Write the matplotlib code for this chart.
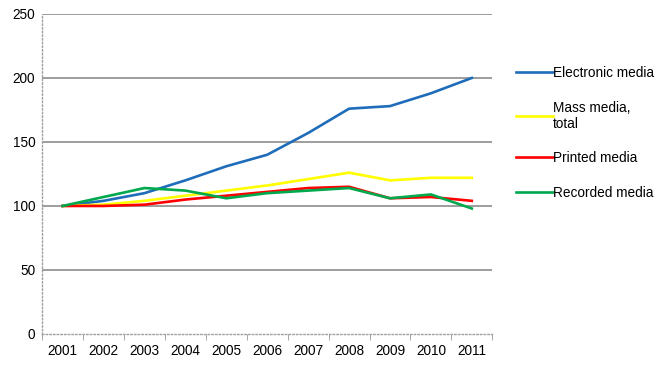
import numpy as np
import matplotlib
matplotlib.use("Agg")
import matplotlib.pyplot as plt

plt.rcParams['font.family'] = ['Liberation Sans', 'DejaVu Sans']

years = [2001, 2002, 2003, 2004, 2005, 2006, 2007, 2008, 2009, 2010, 2011]
electronic = [100, 104, 110, 120, 131, 140, 157, 176, 178, 188, 200]
mass_total = [100, 101, 104, 108, 112, 116, 121, 126, 120, 122, 122]
printed = [100, 100, 101, 105, 108, 111, 114, 115, 106, 107, 104]
recorded = [100, 107, 114, 112, 106, 110, 112, 114, 106, 109, 98]

fig = plt.figure(figsize=(6.59, 3.67), dpi=100)
ax = fig.add_axes([0.064, 0.09, 0.683, 0.872])

ax.plot(years, electronic, color='#1F6DBA', lw=1.9, label='Electronic media')
ax.plot(years, mass_total, color='#FFFF00', lw=1.9, label='Mass media,\ntotal')
ax.plot(years, printed, color='#FF0000', lw=1.9, label='Printed media')
ax.plot(years, recorded, color='#00A84E', lw=1.9, label='Recorded media')

ax.set_xlim(2000.5, 2011.5)
ax.set_ylim(0, 250)
ax.set_yticks(np.arange(0, 251, 50))
ax.set_xticks(years)
ax.set_xticks(np.arange(2000.5, 2012, 1), minor=True)
ax.tick_params(axis='x', which='major', length=0, pad=7, labelsize=9.8)
ax.tick_params(axis='x', which='minor', length=4, color='#999999', direction='out')
ax.tick_params(axis='y', length=0, pad=5, labelsize=9.8)

for v in [50, 100, 150, 200, 250]:
    ax.axhline(v, color='#8C8C8C', lw=1.2, zorder=0)

for s in ['top', 'right']:
    ax.spines[s].set_visible(False)
for s in ['left', 'bottom']:
    ax.spines[s].set_color('#A0A0A0')
    ax.spines[s].set_linestyle(':')
    ax.spines[s].set_linewidth(1)

leg = ax.legend(loc='upper left', bbox_to_anchor=(1.025, 0.875), frameon=False,
                fontsize=9.8, handlelength=2.7, handletextpad=0.05, labelspacing=1.5)

fig.savefig('out.png', dpi=100)
